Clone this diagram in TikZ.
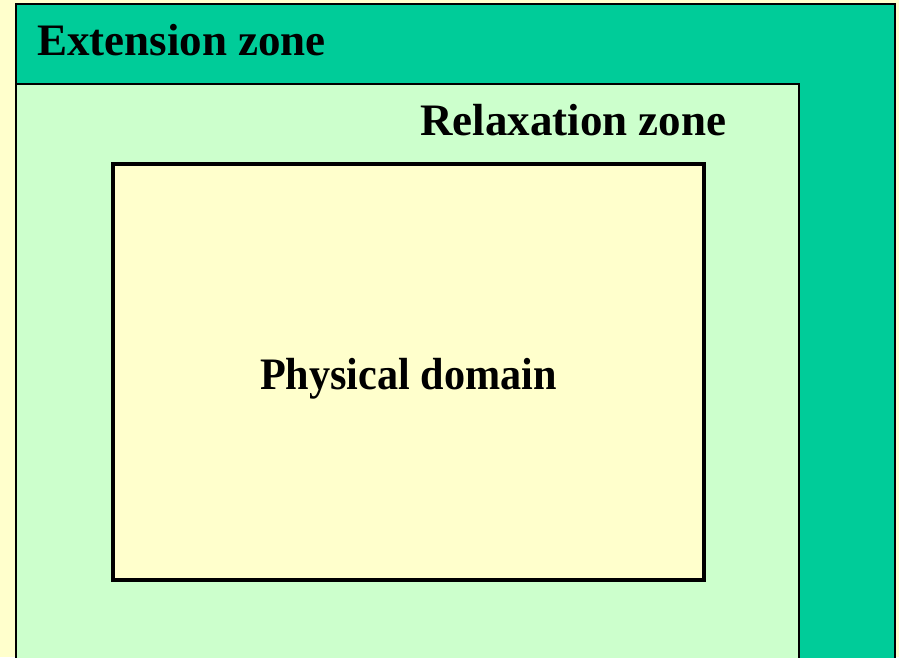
\documentclass[tikz,border=0pt]{standalone}
\usepackage{fontspec}
\usepackage{graphicx}
\setmainfont{Liberation Serif}
\definecolor{bgyellow}{HTML}{FFFFCC}
\definecolor{extgreen}{HTML}{00CC99}
\definecolor{relgreen}{HTML}{CCFFCC}
\begin{document}
\begin{tikzpicture}[x=1pt,y=-1pt,
  lbl/.style={font=\fontsize{45}{50}\selectfont\bfseries, inner sep=0pt, anchor=base west}]
\fill[bgyellow] (0,0) rectangle (899,657);
\useasboundingbox (0,0) rectangle (899,657);
\begin{scope}
\clip (0,0) rectangle (899,657);
\draw[fill=extgreen, line width=2pt] (16,4) rectangle (895,700);
\draw[fill=relgreen, line width=2pt] (16,84) rectangle (799,700);
\end{scope}
\node[draw, fill=bgyellow, line width=4pt, minimum width=591pt, minimum height=416pt, inner sep=0pt, outer sep=0pt, anchor=north west] (phys) at (112.5,163.5) {};
\node[lbl] (ext) at (37,55) {Extension zone};
\node[lbl] (rel) at (420,135) {Relaxation zone};
\node[lbl] (physl) at (260,389) {\scalebox{0.938}[1]{Physical domain}};
\end{tikzpicture}
\end{document}
